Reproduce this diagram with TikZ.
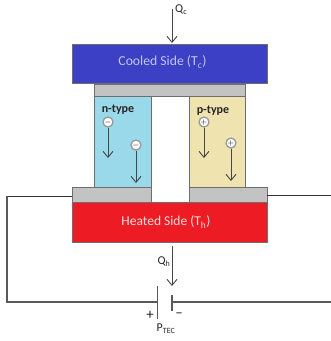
\documentclass[tikz,border=0pt]{standalone}
\usepackage{fontspec}
\setmainfont{Carlito}
\usetikzlibrary{arrows.meta}
\definecolor{coolblue}{HTML}{3B40C4}
\definecolor{hotred}{HTML}{ED1C24}
\definecolor{contactgray}{HTML}{C3C3C3}
\definecolor{ntypeblue}{HTML}{99D9EA}
\definecolor{ptypeyellow}{HTML}{EFE4B0}
\definecolor{edgegray}{HTML}{6E6E6E}
\definecolor{wiregray}{HTML}{5A5A5A}
\tikzset{
  block/.style={draw=edgegray,line width=1pt,inner sep=0pt,outer sep=0pt,anchor=north west},
  flow/.style={draw=black!72,line width=0.9pt,-{Straight Barb[length=6pt,width=10pt,line width=0.9pt]}},
  wire/.style={draw=wiregray,line width=1.1pt},
  thinwire/.style={draw=black!80,line width=0.7pt},
  charge/.style={circle,draw=black!40,fill=white,line width=1.3pt,minimum size=10pt,inner sep=0pt,font=\fontsize{8}{8}\selectfont},
  lab/.style={inner sep=0pt,text=black!85},
}
\begin{document}
\begin{tikzpicture}[x=1pt,y=-1pt]
\useasboundingbox (0,0) rectangle (331,341);
% blocks
\node[block,fill=coolblue,minimum width=195pt,minimum height=39pt] (cool) at (72,44) {};
\node[block,fill=contactgray,minimum width=151pt,minimum height=12pt] (topbar) at (94,84) {};
\node[block,fill=ntypeblue,minimum width=57pt,minimum height=91pt] (ntype) at (94,96) {};
\node[block,fill=ptypeyellow,minimum width=56pt,minimum height=91pt] (ptype) at (189,96) {};
\node[block,fill=contactgray,minimum width=79pt,minimum height=15pt] (leftpad) at (72,187) {};
\node[block,fill=contactgray,minimum width=78pt,minimum height=15pt] (rightpad) at (189,187) {};
\node[block,fill=hotred,minimum width=195pt,minimum height=40pt] (hot) at (72,202) {};
% block text
\node[lab,text=white!70!coolblue,font=\fontsize{13.7}{13.7}\selectfont] at (162.5,62) {Cooled Side (T\textsubscript{c})};
\node[lab,text=white!85!hotred,font=\fontsize{13.5}{13.5}\selectfont] at (166,222) {Heated Side (T\textsubscript{h})};
\node[lab,font=\bfseries\fontsize{12}{12}\selectfont] at (118,110) {n-type};
\node[lab,font=\bfseries\fontsize{12}{12}\selectfont] at (213,111) {p-type};
% charges
\node[charge] (n1) at (108,122) {$-$};
\node[charge] (n2) at (136,145) {$-$};
\node[charge] (p1) at (204,122) {$+$};
\node[charge] (p2) at (231,143) {$+$};
\coordinate (n1e) at (108,158);
\coordinate (n2e) at (136,183);
\coordinate (p1e) at (204,158);
\coordinate (p2e) at (231,181);
\draw[flow] (n1) -- (n1e);
\draw[flow] (n2) -- (n2e);
\draw[flow] (p1) -- (p1e);
\draw[flow] (p2) -- (p2e);
% heat flows
\coordinate (qctop) at (172,9);
\coordinate (qcend) at (172,43);
\draw[flow] (qctop) -- (qcend);
\node[lab,anchor=west,font=\fontsize{12}{12}\selectfont] (qc) at (175,10) {Q\textsubscript{c}};
\coordinate (qhtop) at (172,246);
\coordinate (qhend) at (172,286);
\draw[flow] (qhtop) -- (qhend);
\node[lab,anchor=east,font=\fontsize{12}{12}\selectfont] (qh) at (170.5,262) {Q\textsubscript{h}};
% circuit
\coordinate (platepT) at (157.5,286);
\coordinate (platepB) at (157.5,319);
\coordinate (platemT) at (172,295);
\coordinate (platemB) at (172,311);
\coordinate (wl) at (7,196);
\coordinate (wlb) at (7,302);
\coordinate (wbp) at (157.5,302);
\coordinate (wbm) at (172,302);
\coordinate (wbr) at (331,302);
\coordinate (wr) at (331,195);
\coordinate (rpe) at (267,195);
\coordinate (lpe) at (72,196);
\draw[thinwire] (lpe) -- (wl);
\draw[wire] (wl) -- (wlb) -- (wbp);
\draw[thinwire] (rpe) -- (wr);
\draw[wire] (wbm) -- (wbr);
\draw[wire] (platepT) -- (platepB);
\draw[wire] (platemT) -- (platemB);
\node[lab,font=\fontsize{15}{15}\selectfont] (plus) at (150,315) {+};
\node[lab,font=\fontsize{15}{15}\selectfont] (minus) at (179,315) {–};
\node[lab,font=\fontsize{12}{12}\selectfont] (ptec) at (166,329) {P\textsubscript{TEC}};
\end{tikzpicture}
\end{document}
